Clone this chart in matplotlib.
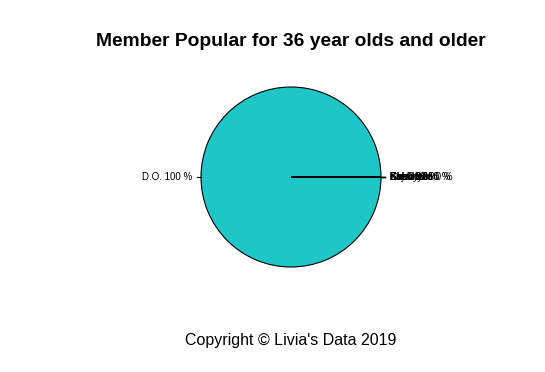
import numpy as np
import matplotlib
matplotlib.use("Agg")
import matplotlib.pyplot as plt

plt.rcParams['font.family'] = ['Liberation Sans', 'DejaVu Sans']

members = ["D.O.", "Baekhyun", "Chanyeol", "Chen", "Kai", "Lay", "Sehun", "Suho", "Xiumin"]
percent = [100, 0, 0, 0, 0, 0, 0, 0, 0]
labels = [f"{m} {p} %" for m, p in zip(members, percent)]

fig = plt.figure(figsize=(5.45, 3.72), dpi=100)
W, H = 545, 372
cx, cy, r = 291, 177, 90
ax = fig.add_axes([(cx - 2 * r) / W, (H - cy - 1.5 * r) / H, 4 * r / W, 3 * r / H])

# R pie: counterclockwise starting at 0 degrees
wedges, _ = ax.pie(percent, startangle=0, counterclock=True, radius=1,
                   colors=['#1EC6C6'] * len(percent),
                   wedgeprops=dict(edgecolor='black', linewidth=0.8),
                   labels=None, normalize=True)
ax.set_xlim(-2, 2)
ax.set_ylim(-1.5, 1.5)
ax.set_aspect('auto')
ax.axis('off')

for w, lab in zip(wedges, labels):
    mid = np.deg2rad((w.theta1 + w.theta2) / 2)
    c, s = np.cos(mid), np.sin(mid)
    ax.plot([c, 1.05 * c], [s, 1.05 * s], color='black', lw=0.8)
    ax.text(1.1 * c, 1.1 * s, lab, fontsize=7,
            ha='left' if c >= 0 else 'right', va='center')

fig.text(cx / W, 1 - 42 / H, "Member Popular for 36 year olds and older",
         ha='center', va='center', fontsize=13.9, fontweight='bold')
fig.text(cx / W, 1 - 341 / H, "Copyright \u00a9 Livia's Data 2019",
         ha='center', va='center', fontsize=11.5)

fig.savefig("out.png", dpi=100)
